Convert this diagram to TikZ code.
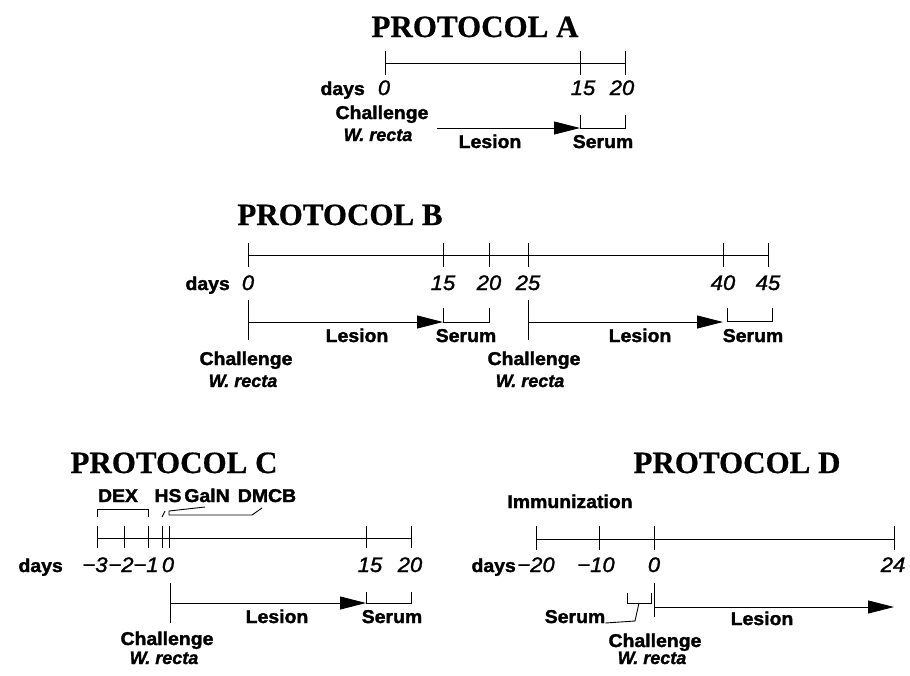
\documentclass[tikz,border=0pt]{standalone}
\usepackage{fontspec}
\setmainfont{Liberation Serif}
\newfontfamily\ttlfont{Liberation Serif}[FakeBold=0.6]
\newfontfamily\labfont{Liberation Sans}[FakeStretch=1.05,FakeBold=1.8]
\newfontfamily\numfont{Liberation Sans}[FakeStretch=1.05,FakeBold=1.4]
\newfontfamily\spfont{Liberation Sans}[FakeBold=1.4]
\usetikzlibrary{arrows.meta}
\newcommand\ttlf{\ttlfont\bfseries\fontsize{31}{33}\selectfont}
\newcommand\labf{\labfont\bfseries\fontsize{18.5}{20}\selectfont}
\newcommand\numf{\numfont\itshape\fontsize{21}{23}\selectfont}
\newcommand\spf{\spfont\bfseries\itshape\fontsize{18}{20}\selectfont}
\tikzset{
  title/.style={font=\ttlf, anchor=base, inner sep=0pt},
  lab/.style={font=\labf, anchor=base, inner sep=0pt},
  num/.style={font=\numf, anchor=base, inner sep=0pt},
  spec/.style={font=\spf, anchor=base, inner sep=0pt},
  axis/.style={line width=0.9pt},
  lesion/.style={line width=0.9pt, -{Triangle[length=26pt,width=13pt]}},
  bracket/.style={line width=0.9pt},
}
\begin{document}
\begin{tikzpicture}[x=1pt, y=-1pt]
\useasboundingbox (0,0) rectangle (910,675);

% ---------------- Protocol A ----------------
\node[title] (tA) at (475,37) {PROTOCOL A};
\coordinate (A0) at (385,63);
\coordinate (A15) at (580,63);
\coordinate (A20) at (625,63);
\draw[axis] (A0) -- (A20);
\foreach \t in {A0,A15,A20} \draw[axis] ([yshift=12pt]\t) -- ([yshift=-12pt]\t);
\node[lab, anchor=base east] (dA) at (365,95) {days};
\node[num] (nA0) at (384,95) {0};
\node[num] (nA15) at (583,95) {15};
\node[num] (nA20) at (622,95) {20};
\node[lab] (chA) at (382,119) {Challenge};
\node[spec] (wrA) at (378,141) {W. recta};
\coordinate (AL0) at (437,128);
\coordinate (AL1) at (580,128);
\draw[lesion] (AL0) -- (AL1);
\coordinate (AS0) at (580,115);
\coordinate (AS1) at (625,115);
\draw[bracket] (AS0) |- (AL1) -- (AS1 |- AL1) -- (AS1);
\node[lab] (lsA) at (490,148) {Lesion};
\node[lab] (srA) at (603,148) {Serum};

% ---------------- Protocol B ----------------
\node[title] (tB) at (340,225) {PROTOCOL B};
\foreach \n/\x in {0/248,15/443,20/489,25/528,40/723,45/768}
  \coordinate (B\n) at (\x,255);
\draw[axis] (B0) -- (B45);
\foreach \n in {0,15,20,25,40,45} {
  \draw[axis] ([yshift=12pt]B\n) -- ([yshift=-12pt]B\n);
  \node[num] (nB\n) at ([yshift=-35pt]B\n) {\n};
}
\node[lab, anchor=base east] (dB) at (230,290) {days};
% first challenge
\coordinate (BC0) at (248,300);
\coordinate (BC1) at (248,340);
\draw[axis] (BC0) -- (BC1);
\coordinate (BL0) at (248,322);
\coordinate (BL1) at (443,322);
\draw[lesion] (BL0) -- (BL1);
\coordinate (BS0) at (443,308);
\coordinate (BS1) at (489,308);
\draw[bracket] (BS0) |- (BL1) -- (BS1 |- BL1) -- (BS1);
\node[lab] (lsB1) at (357,342) {Lesion};
\node[lab] (srB1) at (466,342) {Serum};
\node[lab] (chB1) at (246,365) {Challenge};
\node[spec] (wrB1) at (243,387) {W. recta};
% second challenge
\coordinate (BC2) at (528,300);
\coordinate (BC3) at (528,340);
\draw[axis] (BC2) -- (BC3);
\coordinate (BL2) at (528,322);
\coordinate (BL3) at (723,322);
\draw[lesion] (BL2) -- (BL3);
\coordinate (BS2) at (727,308);
\coordinate (BS3) at (772,308);
\draw[bracket] (BS2) -- (727,321) -- (772,321) -- (BS3);
\node[lab] (lsB2) at (640,342) {Lesion};
\node[lab] (srB2) at (753,342) {Serum};
\node[lab] (chB2) at (534,365) {Challenge};
\node[spec] (wrB2) at (530,387) {W. recta};

% ---------------- Protocol C ----------------
\node[title] (tC) at (174,473) {PROTOCOL C};
\node[lab] (dex) at (118,502) {DEX};
\node[lab] (hs) at (168,502) {HS};
\node[lab] (galn) at (207,502) {GalN};
\node[lab] (dmcb) at (267,502) {DMCB};
\draw[bracket] (97,517) -- (97,509) -- (148,509) -- (148,517);
\draw[bracket] (162,517) -- (165,511);
\draw[bracket] (205,507) -- (169,511) -- (169,515) -- (252,515) -- (262,508);
\foreach \n/\x in {m3/97,m2/124,m1/148,hs/162,0/169,15/366,20/411}
  \coordinate (C\n) at (\x,538);
\draw[axis] (Cm3) -- (C20);
\foreach \n in {m3,m2,m1,hs,0,15,20}
  \draw[axis] ([yshift=12pt]C\n) -- ([yshift=-10pt]C\n);
\node[lab, anchor=base east] (dC) at (63,572) {days};
\node[num] (nCm3) at (95,572) {−3};
\node[num] (nCm2) at (121,572) {−2};
\node[num] (nCm1) at (146,572) {−1};
\node[num] (nC0) at (168,572) {0};
\node[num] (nC15) at (370,572) {15};
\node[num] (nC20) at (410,572) {20};
\coordinate (CC0) at (170,583);
\coordinate (CC1) at (170,623);
\draw[axis] (CC0) -- (CC1);
\coordinate (CL0) at (170,603);
\coordinate (CL1) at (366,603);
\draw[lesion] (CL0) -- (CL1);
\coordinate (CS0) at (366,592);
\coordinate (CS1) at (411,592);
\draw[bracket] (CS0) |- (CL1) -- (CS1 |- CL1) -- (CS1);
\node[lab] (lsC) at (277,623) {Lesion};
\node[lab] (srC) at (392,623) {Serum};
\node[lab] (chC) at (167,645) {Challenge};
\node[spec] (wrC) at (164,664) {W. recta};

% ---------------- Protocol D ----------------
\node[title] (tD) at (737,473) {PROTOCOL D};
\node[lab] (imm) at (570,508) {Immunization};
\foreach \n/\x in {m20/536,m10/599,0/654,24/894}
  \coordinate (D\n) at (\x,539);
\draw[axis] (Dm20) -- (D24);
\foreach \n in {m20,m10,0,24}
  \draw[axis] ([yshift=13pt]D\n) -- ([yshift=-11pt]D\n);
\node[lab, anchor=base east] (dD) at (516,572) {days};
\node[num] (nDm20) at (536,572) {−20};
\node[num] (nDm10) at (596,572) {−10};
\node[num] (nD0) at (654,572) {0};
\node[num] (nD24) at (893,572) {24};
\coordinate (DC0) at (654,583);
\coordinate (DC1) at (654,617);
\draw[axis] (DC0) -- (DC1);
\coordinate (DL0) at (654,607);
\coordinate (DL1) at (894,607);
\draw[lesion] (DL0) -- (DL1);
\node[lab] (srD) at (575,623) {Serum};
\draw[bracket] (627,593) -- (627,603) -- (651,603) -- (651,593);
\draw[bracket] (639,603) -- (635,621) -- (srD.base east);
\node[lab] (lsD) at (762,625) {Lesion};
\node[lab] (chD) at (655,647) {Challenge};
\node[spec] (wrD) at (652,664) {W. recta};
\end{tikzpicture}
\end{document}
